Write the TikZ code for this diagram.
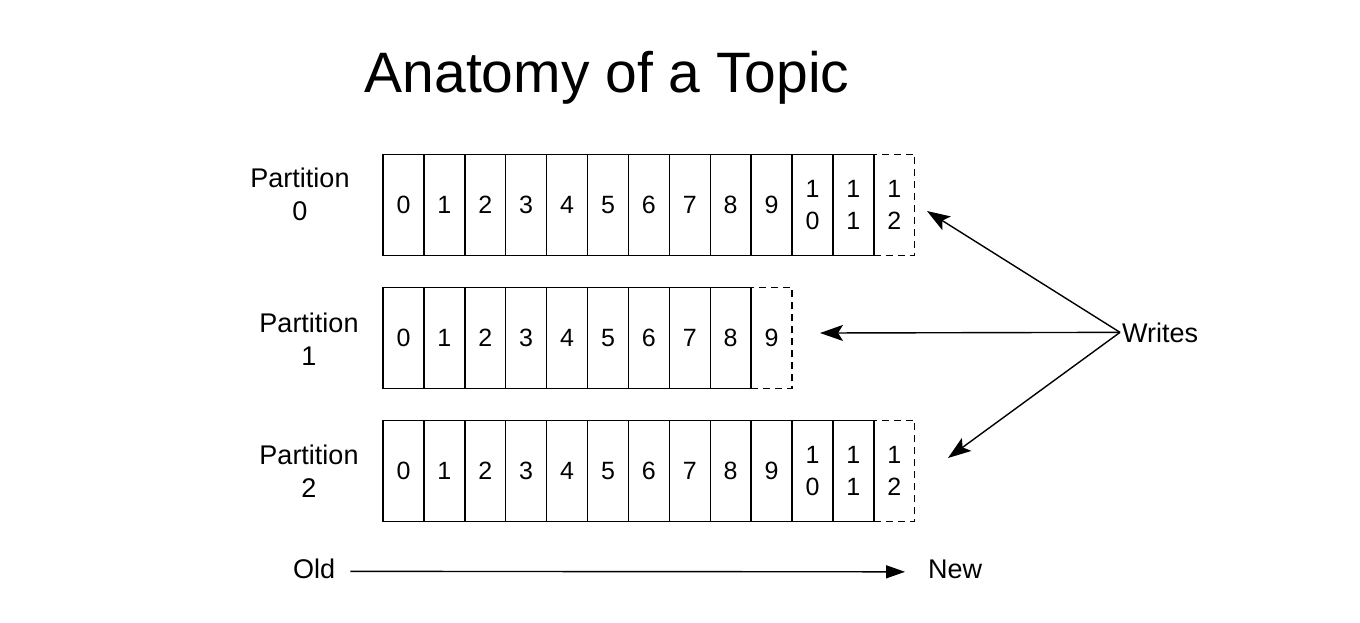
\documentclass[tikz,border=0pt]{standalone}
\usepackage{fontspec}
\setmainfont{Liberation Sans}
\usetikzlibrary{arrows.meta}
\begin{document}
\begin{tikzpicture}[x=1pt,y=-1pt,
  cell/.style={draw, line width=1.4pt, minimum width=40.9pt, minimum height=101pt,
    inner sep=0pt, font=\fontsize{25}{32}\selectfont, align=center},
  newcell/.style={cell, dash pattern=on 7pt off 5pt},
  lbl/.style={font=\fontsize{27}{33}\selectfont, align=center, inner sep=0pt},
  txt/.style={font=\fontsize{27}{33}\selectfont, inner sep=0pt},
  wr/.style={line width=1.4pt, -{Stealth[length=23pt,width=16pt,inset=5pt]}},
  tl/.style={line width=1.4pt, -{Triangle[length=19pt,width=13pt]}},
]
\useasboundingbox (0,0) rectangle (1360,622);

\node[font=\fontsize{57}{62}\selectfont, inner sep=0pt, anchor=base] (title) at (607,92) {Anatomy of a Topic};

\foreach \r/\y/\n in {0/205/12,1/338/9,2/471/12}{
  \pgfmathtruncatemacro\last{\n-1}
  \foreach \i in {0,...,\last}{
    \pgfmathtruncatemacro\d{\i-10}
    \ifnum\i>9 \def\ct{1\\\d}\else\edef\ct{\i}\fi
    \node[cell] (p\r c\i) at ({403.45+40.9*\i},\y) {\ct};
  }
  \pgfmathtruncatemacro\d{\n-10}
  \ifnum\n>9 \def\ct{1\\\d}\else\edef\ct{\n}\fi
  \node[newcell] (p\r c\n) at ({403.45+40.9*\n},\y) {\ct};
}

\node[lbl] (l0) at (300,194) {Partition\\0};
\node[lbl] (l1) at (309,339) {Partition\\1};
\node[lbl] (l2) at (309,471) {Partition\\2};

\node[txt, anchor=base west, inner sep=2pt] (w) at (1120,342) {Writes};
\coordinate (t0) at (927,211);
\coordinate (t1) at (820,333);
\coordinate (t2) at (948,458);
\draw[wr] (w.west) -- (t0);
\draw[wr] (w.west) -- (t1);
\draw[wr] (w.west) -- (t2);

\node[txt, anchor=base west] (old) at (293,578) {Old};
\node[txt, anchor=base west] (new) at (928,578) {New};
\draw[tl, shorten <=15pt, shorten >=23pt] ([yshift=-3pt]old.east) -- ([yshift=-3pt]new.west);
\end{tikzpicture}
\end{document}
